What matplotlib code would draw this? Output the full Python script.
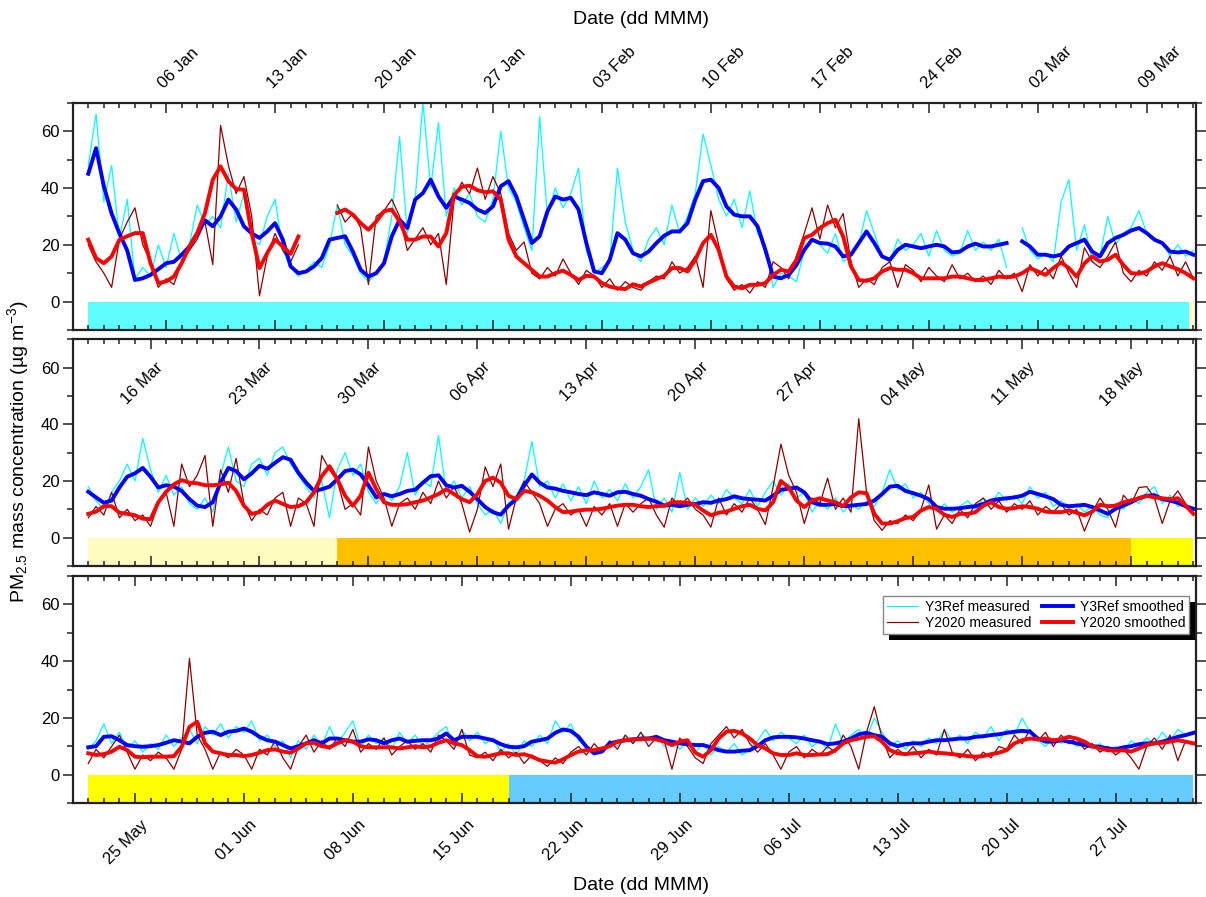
import datetime as dt
import numpy as np
import matplotlib
matplotlib.use("Agg")
import matplotlib.pyplot as plt
from matplotlib.ticker import FixedLocator, MultipleLocator
from matplotlib.transforms import ScaledTranslation, IdentityTransform
from matplotlib.patches import Rectangle

plt.rcParams['font.family'] = ['Liberation Sans', 'DejaVu Sans']
plt.rcParams['mathtext.fontset'] = 'custom'
plt.rcParams['mathtext.rm'] = 'Liberation Sans'
plt.rcParams['mathtext.default'] = 'regular'

nan = np.nan

# ---- data: half-day samples, 71 days per panel (day 0 = panel start) ----
panel_start = [0, 71, 142]          # days since 01 Jan 2020
sample_step = 0.5

# panel 1 (01 Jan - 12 Mar)
y3ref_meas_1 = [
    48, 66, 35, 48, 22, 36, 8, 12, 9, 20,
    12, 24, 14, 20, 34, 27, 30, 26, 45, 28,
    38, 22, 20, 30, 36, 18, 12, 9, 11, 14,
    12, 20, 34, 20, 16, 10, 7, 10, 14, 30,
    58, 24, 36, 70, 40, 63, 30, 40, 34, 38,
    30, 28, 36, 60, 40, 35, 26, 18, 65, 30,
    40, 33, 38, 47, 18, 10, 12, 14, 47, 28,
    18, 14, 22, 26, 20, 34, 24, 30, 38, 59,
    48, 36, 30, 36, 26, 39, 24, 20, 5, 10,
    9, 7, 18, 22, 20, 17, 24, 14, 16, 20,
    32, 24, 16, 14, 22, 18, 20, 24, 16, 25,
    18, 16, 17, 25, 18, 21, 18, 22, 12, nan,
    26, 18, 15, 17, 14, 35, 43, 18, 27, 14,
    16, 30, 20, 24, 26, 32, 24, 22, 21, 16,
    20, 16, 18]
y2020_meas_1 = [
    20, 14, 10, 5, 22, 28, 33, 20, 14, 5,
    8, 6, 14, 18, 22, 28, 13, 62, 48, 38,
    44, 30, 2, 16, 24, 18, 14, 20, nan, nan,
    nan, nan, 34, 28, 31, 26, 6, 30, 32, 36,
    30, 18, 22, 26, 20, 24, 6, 36, 42, 38,
    47, 36, 44, 38, 24, 18, 21, 10, 8, 12,
    9, 15, 10, 6, 11, 9, 5, 8, 4, 7,
    5, 4, 7, 9, 8, 14, 10, 12, 16, 5,
    32, 20, 8, 4, 6, 3, 7, 5, 14, 12,
    8, 16, 24, 33, 22, 34, 26, 31, 14, 5,
    8, 6, 12, 14, 5, 13, 11, 7, 12, 9,
    7, 13, 8, 10, 7, 9, 6, 11, 8, 10,
    3.5, 13, 9, 12, 8, 16, 10, 5, 19, 14,
    12, 16, 21, 10, 7, 11, 9, 14, 11, 16,
    9, 14, 8]
y3ref_smooth_1 = [
    45, 54, 40.6, 31, 24, 18, 7.6, 8.2, 9.4, 11.4,
    13.5, 14, 16.5, 19.4, 24, 28.6, 26.5, 30, 35.9, 32.4,
    26.5, 24, 22.4, 24.7, 27.6, 21.8, 12.4, 10, 10.6, 12.4,
    15.3, 21.8, 22.4, 23, 17.6, 11.2, 8.8, 10, 13.5, 23,
    28.8, 25.9, 35.9, 38.2, 42.9, 37, 33, 37, 35.9, 34.7,
    32.4, 31.2, 33.5, 40.6, 42.4, 37, 28.8, 20.6, 23, 31.8,
    37, 35.9, 36.5, 32.4, 20.6, 10.6, 10, 14.7, 24.1, 21.8,
    17, 15.9, 17.6, 20.6, 23.2, 24.7, 24.7, 27.6, 35.9, 42.4,
    42.9, 40, 33.5, 30.6, 30, 30, 26.5, 18.2, 8.8, 8.2,
    9.4, 12.9, 18.2, 21.8, 20.6, 20.4, 19.4, 15.9, 16.5, 20.6,
    24.7, 20.6, 15.9, 14.7, 18.2, 20, 19.4, 18.8, 19.4, 20,
    19.4, 17.3, 17.6, 19.4, 20.4, 19.4, 19.4, 20, 20.6, nan,
    21.2, 19.4, 16.5, 16.5, 15.9, 16.5, 19.4, 20.6, 21.8, 17.6,
    15.9, 20.6, 22.4, 23.5, 25, 25.9, 24.1, 21.8, 20.6, 17.6,
    17.3, 17.6, 16.5]
y2020_smooth_1 = [
    21.8, 15.3, 13.5, 15.9, 21.8, 23, 24.1, 24.1, 13.5, 6.5,
    7.1, 8.8, 13.5, 19.4, 24.1, 31.2, 42.9, 47.6, 42.4, 39.6,
    39.4, 24.1, 11.8, 17.1, 21.8, 19.4, 16.8, 22.9, nan, nan,
    nan, nan, 31.2, 32.4, 30.6, 27.6, 25.3, 28.2, 31.8, 32.4,
    28.2, 21.8, 21.8, 22.9, 22.9, 19.4, 24.1, 37.6, 40.4, 40.8,
    39.2, 38.5, 38.8, 35.9, 21.8, 15.9, 13.5, 11.2, 8.8, 8.8,
    10, 10.9, 9.4, 7.6, 9.1, 8.8, 6.5, 5.3, 4.7, 4.4,
    6.1, 5.3, 6.7, 7.9, 9.1, 11.8, 11.8, 10.6, 14.7, 20.6,
    23.5, 18.2, 8.8, 5.3, 4.7, 5.9, 5.9, 6.5, 9.4, 11.2,
    10.6, 14.7, 22.4, 23.5, 25.9, 27.6, 28.8, 22.9, 12.4, 7.6,
    7.3, 8.2, 10.6, 11.8, 11.2, 11.2, 10, 8.2, 8.2, 8.2,
    8.2, 8.8, 8.8, 8.2, 7.6, 7.6, 8.2, 8.8, 8.6, 8.8,
    10, 11.8, 10.6, 9.4, 11.8, 13.8, 11.8, 8.8, 13.5, 15.9,
    14.1, 14.7, 16.5, 12.9, 10, 9.8, 10.6, 12.4, 13.5, 12.4,
    11.4, 10, 8.2]

# panel 2 (12 Mar - 22 May)
y3ref_meas_2 = [
    18, 13, 10, 16, 20, 26, 20, 35, 24, 16,
    22, 15, 18, 12, 10, 14, 9, 22, 32, 20,
    18, 26, 28, 22, 30, 32, 26, 22, 18, 14,
    20, 7, 24, 30, 22, 26, 16, 12, 16, 13,
    18, 30, 15, 20, 18, 36, 16, 20, 14, 18,
    12, 8, 10, 5, 12, 15, 20, 34, 18, 20,
    14, 19, 13, 18, 12, 20, 14, 17, 13, 19,
    14, 18, 24, 10, 14, 9, 23, 10, 14, 11,
    15, 12, 17, 14, 12, 17, 11, 16, 20, 15,
    19, 14, 16, 9, 13, 10, 14, 9, 12, 10,
    13, 11, 16, 24, 17, 19, 14, 16, 12, 9,
    12, 9, 11, 13, 10, 14, 12, 16, 13, 15,
    12, 18, 14, 16, 11, 13, 10, 12, 9, 11,
    8, 7, 12, 10, 14, 12, 16, 18, 12, 15,
    11, 12, 9]
y2020_meas_2 = [
    7, 11, 8, 16, 7, 10, 6, 8, 4, 12,
    16, 4, 26, 18, 22, 29, 4, 24, 16, 28,
    12, 6, 10, 8, 14, 16, 4, 14, 12, 4,
    29, 24, 20, 10, 12, 8, 32, 20, 14, 4,
    12, 14, 10, 16, 12, 20, 14, 18, 12, 2,
    10, 25, 18, 26, 3, 14, 20, 16, 12, 4,
    10, 12, 8, 10, 4, 11, 8, 12, 4, 12,
    9, 12, 14, 8, 3.7, 14, 11, 14, 10, 8,
    3.7, 14, 8, 12, 9, 14, 10, 4.6, 18, 33,
    22, 16, 5, 14, 12, 21, 10, 14, 9, 42,
    16, 6, 2.6, 6, 5, 8, 6, 10, 18.6, 3,
    8, 5, 10, 7, 12, 14, 10, 13, 9, 12,
    10, 13, 8, 11, 9, 12, 8, 10, 2.3, 9,
    14, 10, 3.7, 15, 12, 17.7, 18, 14, 5, 13,
    16.5, 12, 8]
y3ref_smooth_2 = [
    16.2, 14.2, 12.3, 13.1, 17.7, 21.5, 22.7, 24.6, 21.5, 17.7,
    18.5, 18, 16.5, 13.6, 11.3, 10.8, 12.5, 19.4, 24.6, 23.5,
    20.6, 22.7, 25.4, 24.3, 26.4, 28.4, 27.5, 22.9, 19.4, 16.5,
    17.1, 18, 20.6, 23.5, 24, 22.3, 18.5, 14.2, 15.4, 14.6,
    15.4, 16.5, 16.9, 19.4, 21.7, 22, 18.5, 17.7, 18.3, 16.2,
    13.6, 10.8, 9, 8.1, 11.3, 13.6, 18.3, 22.3, 19.4, 17.7,
    17.3, 16.5, 16, 15.4, 15, 16, 15.4, 14.8, 16, 16.2,
    15.4, 14.8, 13.6, 12.7, 11.3, 11.6, 11.1, 11.6, 11.9, 12.5,
    12.3, 13.1, 13.6, 14.6, 13.9, 13.6, 13.4, 13.1, 14.8, 16.9,
    17.3, 17.7, 16, 12.5, 11.6, 11.6, 11.9, 11.1, 11.3, 11.6,
    11.9, 13.1, 15.4, 18, 18.3, 16.5, 15.7, 14.8, 13.6, 10.8,
    10.2, 10.2, 10.4, 10.8, 11.1, 11.9, 13.1, 13.6, 13.9, 14.2,
    14.8, 16.2, 15.4, 14.6, 13.6, 11.6, 11.1, 11.3, 11.6, 10.8,
    9.6, 8.4, 10.2, 11.3, 12.5, 13.9, 14.8, 15, 13.6, 13.1,
    12.3, 11.1, 10.2]
y2020_smooth_2 = [
    8.4, 9.2, 11.1, 11.1, 8.8, 8.4, 7.9, 6.7, 6.5, 12.5,
    16.2, 18.8, 20.3, 19.4, 19.2, 18.5, 18.5, 18.8, 19.4, 16.5,
    11.3, 8.4, 9, 11.6, 13.1, 11.9, 10.8, 11.1, 12.5, 16,
    21.7, 25.2, 20.6, 14.8, 11.3, 14.8, 22.9, 17.1, 12.5, 11.6,
    11.6, 11.8, 12.5, 13.1, 14.2, 15.4, 17.1, 15.4, 13.6, 12.5,
    15.4, 20, 21.2, 19.4, 14.8, 13.6, 16.5, 16, 14.8, 13.1,
    10.8, 9, 9.2, 9.6, 9.9, 9.9, 10.2, 10.8, 11.3, 11.6,
    11.6, 11.1, 10.8, 11.1, 11.3, 12.5, 12.5, 12.3, 11.6, 9.6,
    7.9, 8.8, 9.2, 10.2, 11.1, 11.6, 10.2, 9.6, 12.5, 20,
    17.7, 13.1, 10.8, 13.1, 13.9, 13.1, 12.5, 11.1, 14.2, 16,
    15.7, 8.4, 5, 5, 5.8, 6.9, 7.3, 9.6, 10.8, 10.2,
    8.1, 7.3, 8.4, 8.4, 9, 11.3, 12.5, 10.8, 10.2, 10.4,
    11.1, 10.8, 10.2, 9.2, 9, 9, 9.6, 8.8, 7.9, 9.2,
    11.6, 11.1, 11.3, 12.5, 13.1, 13.9, 14.8, 14.2, 13.9, 13.6,
    13.9, 11.3, 8.4]

# panel 3 (22 May - 01 Aug)
y3ref_meas_3 = [
    9, 12, 18, 11, 15, 9, 12, 8, 11, 9,
    14, 10, 13, 16, 11, 17, 14, 18, 13, 17,
    15, 19, 12, 14, 10, 12, 6, 12, 9, 14,
    10, 17, 11, 15, 19, 10, 14, 11, 13, 9,
    15, 11, 14, 10, 12, 15, 17, 10, 16, 12,
    15, 11, 13, 8, 11, 7, 12, 10, 14, 11,
    19, 15, 18, 12, 10, 7, 9, 12, 10, 14,
    11, 15, 12, 14, 10, 12, 9, 12, 8, 11,
    7, 10, 8, 11, 7, 9, 12, 16, 12, 15,
    13, 11, 14, 10, 12, 9, 18, 11, 14, 16,
    13, 20, 15, 10, 12, 9, 12, 10, 13, 11,
    16, 12, 14, 11, 15, 13, 17, 12, 16, 14,
    20, 15, 12, 10, 13, 11, 14, 10, 12, 9,
    11, 8, 10, 8, 12, 10, 13, 11, 15, 12,
    16, 14, 15]
y2020_meas_3 = [
    4, 9, 6, 10, 14, 8, 2, 7, 5, 8,
    6, 2, 9, 41, 14, 9, 2, 8, 6, 9,
    7, 2, 9, 7, 12, 6, 2, 10, 14, 8,
    12, 9, 13, 10, 16, 8, 11, 9, 13, 7,
    10, 12, 9, 11, 8, 14, 12, 9, 16, 7,
    6, 8, 5, 9, 6, 8, 4, 7, 5, 3,
    6, 4, 8, 10, 7, 11, 8, 12, 9, 14,
    11, 15, 10, 13, 12, 2, 13, 10, 6, 4,
    11, 14, 17, 13, 16, 11, 8, 11, 7, 2,
    8, 10, 6, 9, 7, 10, 8, 14, 10, 2,
    15, 24, 13, 6, 9, 7, 10, 6, 9, 7,
    16, 8, 6, 9, 5, 8, 6, 10, 9, 14,
    11, 16, 12, 15, 10, 14, 11, 13, 9, 11,
    8, 10, 7, 9, 6, 2, 10, 13, 9, 14,
    5, 12, 11]
y3ref_smooth_3 = [
    9.7, 10.1, 13.4, 13.6, 12.2, 10.5, 10.1, 9.9, 10.1, 10.5,
    11.3, 12.2, 11.7, 11.1, 13.4, 14.8, 15.2, 14, 15.2, 15.5,
    16.3, 15.2, 13.4, 12.2, 11.7, 10.5, 9.3, 10.1, 11.1, 12.2,
    11.1, 12.8, 12.8, 12.2, 11.7, 11.7, 12.5, 12.2, 11.1, 12.2,
    12.8, 11.7, 12, 12.2, 12.2, 12.8, 14.6, 12.2, 13.4, 13.4,
    13.4, 12.8, 12.2, 10.8, 9.9, 9.7, 10.1, 11.7, 12.2, 12.8,
    14.8, 16, 15.5, 13.4, 9.9, 7.6, 8.2, 11.1, 11.7, 12.2,
    12.5, 12.8, 12.8, 13.4, 12.2, 11.7, 11.1, 10.8, 10.5, 10.5,
    9.7, 8.7, 8.2, 8.2, 8.5, 8.7, 10.1, 12.2, 13.2, 13.4,
    13.4, 13.2, 12.8, 12.2, 11.7, 10.8, 11.1, 11.7, 12.8, 14.3,
    14.8, 14, 13.4, 11.1, 10.1, 10.8, 11.1, 11.1, 11.7, 12.2,
    12.2, 12.5, 12.8, 12.8, 13.4, 13.6, 14, 14.3, 14.8, 15.2,
    15.5, 15.2, 12.8, 11.7, 11.7, 12.2, 11.7, 11.1, 10.5, 10.1,
    9.9, 9.3, 9, 9.7, 10.1, 10.8, 11.1, 11.1, 11.7, 12.5,
    13.4, 14, 14.8]
y2020_smooth_3 = [
    7.6, 7, 7.3, 8.2, 9.9, 8.7, 6.4, 6.2, 6.4, 6.4,
    6.4, 6.6, 9.9, 16.9, 18.7, 11.1, 8.2, 7.6, 7, 7,
    6.6, 7, 7.8, 8.7, 9, 8.2, 7.8, 9.3, 11.1, 11.3,
    10.1, 9.7, 11.1, 12.2, 11.7, 10.1, 9.7, 9.7, 9.7, 9.7,
    9.3, 9.7, 10.1, 9.7, 10.1, 11.3, 12.2, 11.1, 10.5, 8.7,
    6.6, 6.4, 7, 7.6, 7.6, 7, 7.3, 6.4, 5.2, 4.7,
    4.3, 5.5, 7, 8.2, 8.7, 8.7, 9.3, 10.1, 11.7, 12.2,
    12.5, 12.5, 12.8, 12.5, 11.7, 10.5, 11.7, 12.2, 7.8, 6.4,
    8.7, 12.8, 15.2, 15.5, 14.6, 12.8, 10.5, 9.3, 7.6, 7,
    7, 7.6, 7, 7, 7.2, 7.3, 8.7, 11.1, 12.2, 12.8,
    13.4, 13.6, 11.7, 8.7, 7.6, 7.3, 7.6, 7.8, 8.2, 7.8,
    7.6, 7.3, 7, 6.6, 6.4, 6.6, 7.3, 7.8, 8.7, 11.1,
    12.2, 12.8, 12.5, 12.8, 12.2, 12.5, 13.4, 12.8, 11.7, 10.1,
    9.3, 8.7, 8.5, 8.7, 8.2, 9.3, 10.5, 11.1, 11.3, 11.7,
    12.2, 11.7, 11.1]

meas_ref = [y3ref_meas_1, y3ref_meas_2, y3ref_meas_3]
meas_2020 = [y2020_meas_1, y2020_meas_2, y2020_meas_3]
smooth_ref = [y3ref_smooth_1, y3ref_smooth_2, y3ref_smooth_3]
smooth_2020 = [y2020_smooth_1, y2020_smooth_2, y2020_smooth_3]

# lockdown phases (days since 01 Jan 2020)
phase_edges = [0, 70.7, 87, 138, 169, 213]
phase_colors = ['#60FFFF', '#FFFDBF', '#FFC000', '#FFFF00', '#66CCFF']

legend_labels = ['Y3Ref measured', 'Y2020 measured', 'Y3Ref smoothed', 'Y2020 smoothed']

# ---- figure ----
W, H = 1206, 897
fig = plt.figure(figsize=(W / 100, H / 100), dpi=100)

ax_left, ax_right = 72.7, 1196.5
panel_px = [(102.7, 330.0), (339.3, 566.0), (576.0, 803.3)]
base = dt.date(2020, 1, 1)


def px_offset(dx_px, dy_px):
    return ScaledTranslation(dx_px / 100, dy_px / 100, fig.dpi_scale_trans)


axes = []
for i, (top, bot) in enumerate(panel_px):
    ax = fig.add_axes([ax_left / W, 1 - bot / H, (ax_right - ax_left) / W, (bot - top) / H])
    axes.append(ax)
    start = panel_start[i]
    t = start + np.arange(len(meas_ref[i])) * sample_step

    # phase bars
    for k, col in enumerate(phase_colors):
        x0 = max(phase_edges[k], start)
        x1 = min(phase_edges[k + 1], start + 71)
        if x1 > x0:
            ax.fill_between([x0, x1], -10, 0, color=col, lw=0, zorder=1)

    l1, = ax.plot(t, meas_ref[i], color='#00FFFF', lw=0.9, zorder=2)
    l2, = ax.plot(t, meas_2020[i], color='#8B0000', lw=0.9, zorder=2.5)
    l3, = ax.plot(t, smooth_ref[i], color='#0000FF', lw=2.8, zorder=3)
    l4, = ax.plot(t, smooth_2020[i], color='#FF0000', lw=2.8, zorder=3.5)

    ax.set_xlim(start - 1.0, start + 71.2)
    ax.set_ylim(-10, 70)
    ax.yaxis.set_major_locator(FixedLocator([0, 20, 40, 60]))
    ax.yaxis.set_minor_locator(MultipleLocator(10))
    weekly = [d for d in range(5, 214, 7) if start <= d <= start + 71]
    ax.xaxis.set_major_locator(FixedLocator(weekly))
    ax.xaxis.set_minor_locator(MultipleLocator(1))
    ax.tick_params(axis='x', which='both', direction='in', top=True, bottom=True,
                   labelbottom=False, labeltop=False, width=1.1, color='#222222')
    ax.tick_params(axis='x', which='major', length=7)
    ax.tick_params(axis='x', which='minor', length=3.5)
    ax.tick_params(axis='y', which='both', direction='out', left=True, right=True,
                   labelleft=True, labelright=False, width=1.1, color='#222222',
                   labelsize=12, pad=2)
    ax.tick_params(axis='y', which='major', length=7.5)
    ax.tick_params(axis='y', which='minor', length=4)
    for s in ax.spines.values():
        s.set_linewidth(1.6)
        s.set_color('#222222')

    # rotated date labels
    xtr = ax.get_xaxis_transform()
    for d in weekly:
        lab = (base + dt.timedelta(days=d)).strftime('%d %b')
        if i == 0:
            ax.text(d, 1, lab, transform=xtr + px_offset(0.5, 11.5), rotation=45,
                    rotation_mode='anchor', ha='left', va='bottom', fontsize=12)
        elif i == 1:
            ax.text(d, 1, lab, transform=xtr + px_offset(5, -20), rotation=45,
                    rotation_mode='anchor', ha='right', va='top', fontsize=12)
        else:
            ax.text(d, 0, lab, transform=xtr + px_offset(5, -14), rotation=45,
                    rotation_mode='anchor', ha='right', va='top', fontsize=12,
                    clip_on=False)

# legend in bottom panel
ax = axes[2]
leg = ax.legend([l1, l2, l3, l4], legend_labels, ncol=2, loc='upper right',
                bbox_to_anchor=(0.9937, 0.912), borderaxespad=0, fontsize=10,
                frameon=True, fancybox=False, edgecolor='#888888', framealpha=1,
                handlelength=2.2, handletextpad=0.5, columnspacing=0.8,
                labelspacing=0.15, borderpad=0.3)
leg.get_frame().set_linewidth(1.0)
leg.set_zorder(6)
fig.canvas.draw()
bb = leg.get_window_extent()
ax.add_patch(Rectangle((bb.x0 + 6, bb.y0 - 6), bb.width, bb.height,
                       transform=IdentityTransform(), facecolor='black',
                       edgecolor='none', zorder=5.5, clip_on=False))

fig.text(641 / W, 1 - 20 / H, 'Date (dd MMM)', ha='center', va='center', fontsize=14)
fig.text(641 / W, 1 - 885 / H, 'Date (dd MMM)', ha='center', va='center', fontsize=14)
fig.text(18 / W, 1 - 452 / H, 'PM$_{2.5}$ mass concentration (µg m$^{-3}$)',
         rotation=90, ha='center', va='center', fontsize=14)

fig.savefig('out.png', dpi=100)
